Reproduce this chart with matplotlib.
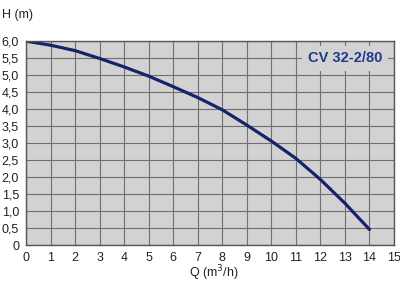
import numpy as np
from matplotlib import pyplot as plt

plt.rcParams['font.family'] = ['Liberation Sans', 'DejaVu Sans']

# pump curve
q = [0, 1, 2, 3, 4, 5, 6, 7, 8, 9, 10, 11, 12, 13, 14]
h = [6.0, 5.88, 5.72, 5.49, 5.24, 4.97, 4.66, 4.34, 3.98, 3.53, 3.06, 2.55, 1.93, 1.23, 0.46]

x_ticks = list(range(0, 16))
y_ticks = [0, 0.5, 1.0, 1.5, 2.0, 2.5, 3.0, 3.5, 4.0, 4.5, 5.0, 5.5, 6.0]
y_labels = ["0"] + ["{:.1f}".format(v).replace(".", ",") for v in y_ticks[1:]]
title = "CV 32-2/80"

fig = plt.figure(figsize=(4, 3), dpi=100)
ax = fig.add_axes([0.065, 0.183, 0.92, 0.68])
ax.set_facecolor("#d2d2d2")

ax.plot(q, h, color="#14246a", lw=2.3, solid_capstyle="round", solid_joinstyle="round")

ax.set_xlim(0, 15)
ax.set_ylim(0, 6)
ax.set_xticks(x_ticks)
ax.set_xticklabels([str(v) for v in x_ticks])
ax.set_yticks(y_ticks)
ax.set_yticklabels(y_labels)
ax.tick_params(length=0, labelsize=9, colors="#222222", pad=5)
ax.grid(True, color="#707070", lw=0.8)
ax.set_axisbelow(True)
for s in ax.spines.values():
    s.set_color("#555555")
    s.set_linewidth(1.0)

ax.text(0.867, 0.915, title, transform=ax.transAxes, ha="center", va="center",
        fontsize=10.5, fontweight="bold", color="#1f3a8a", zorder=3,
        bbox=dict(facecolor="#d2d2d2", edgecolor="none", pad=4))
fig.text(0.005, 0.95, "H (m)", fontsize=9, color="#222222", va="center")
fig.text(0.535, 0.088, "Q (m$^3$/h)", fontsize=9, color="#222222", ha="center", va="center")

fig.savefig("out.png", dpi=100)
